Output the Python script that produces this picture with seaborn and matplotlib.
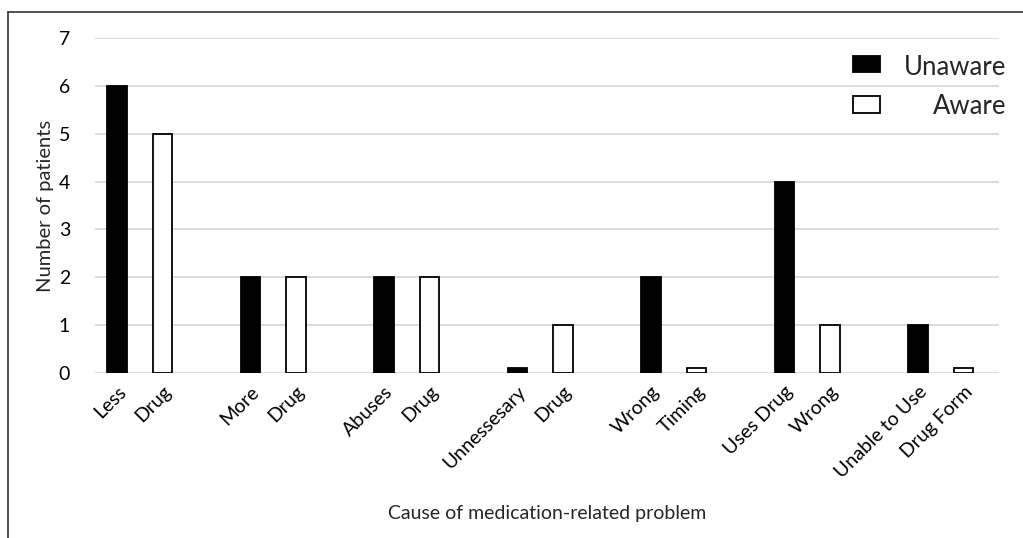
import pandas as pd
import numpy as np
import matplotlib.pyplot as plt
from matplotlib.lines import Line2D
import seaborn as sns

# Data ######################################################################

causes = ["Less Drug", "More Drug", "Abuses Drug", "Unnessesary Drug",
          "Wrong Timing", "Uses Drug Wrong", "Unable to Use Drug Form"]
unaware = [6, 2, 2, 0.1, 2, 4, 1]
aware = [5, 2, 2, 1, 0.1, 1, 0.1]
tick_labels = ["Less", "Drug", "More", "Drug", "Abuses", "Drug",
               "Unnessesary", "Drug", "Wrong", "Timing", "Uses Drug", "Wrong",
               "Unable to Use", "Drug Form"]
series = ["Unaware", "Aware"]

df = pd.DataFrame({
    "cause": causes * 2,
    "patients": unaware + aware,
    "status": [series[0]] * len(causes) + [series[1]] * len(causes),
})

# Plot ######################################################################

sns.set_style("white")
plt.rcParams["font.family"] = ["Lato", "DejaVu Sans"]

W, H = 1023, 538
fig = plt.figure(figsize=(W / 100, H / 100), dpi=100)
ax = fig.add_axes([95 / W, 1 - 373 / H, (999 - 95) / W, (373 - 38) / H])

sns.barplot(data=df, x="cause", y="patients", hue="status",
            hue_order=series,
            palette={"Unaware": "black", "Aware": "white"},
            edgecolor="black", linewidth=1.3,
            width=0.68, gap=0.57, ax=ax)

ax.set_ylim(0, 7)
ax.set_xlim(-0.335, 6.436)
ax.set_yticks(range(8))
ax.yaxis.grid(True, color="#d9d9d9", linewidth=1.3)
ax.set_axisbelow(True)
for s in ax.spines.values():
    s.set_visible(False)
ax.tick_params(axis="both", length=0, labelsize=14, colors="black")
ax.tick_params(axis="y", pad=18)

# one label under every bar
pos = []
for i in range(len(causes)):
    pos += [i - 0.17, i + 0.17]
ax.set_xticks(pos)
ax.set_xticklabels(tick_labels, rotation=45, ha="right",
                   rotation_mode="anchor", fontsize=14)
ax.tick_params(axis="x", pad=7)

ax.set_xlabel("Cause of medication-related problem", fontsize=14, labelpad=17)
ax.set_ylabel("Number of patients", fontsize=14.5, labelpad=3)

# legend: markers from the bars, labels right aligned beside them
fs = 10 * 100 / 72  # legend font size in pixels
handles, _ = ax.get_legend_handles_labels()
leg = ax.legend(handles, ["", ""], loc="upper left",
                bbox_to_anchor=(853 / W, 1 - 56 / H),
                bbox_transform=fig.transFigure,
                frameon=False, fontsize=10, handlelength=27 / fs,
                handleheight=20 / fs, handletextpad=0, labelspacing=24 / fs,
                borderpad=0, borderaxespad=0)
for j, name in enumerate(series):
    fig.text(1006 / W, 1 - (75 + 39 * j) / H, name, ha="right",
             va="baseline", fontsize=18.5)

# outer frame (top and left only visible in the crop)
fig.add_artist(Line2D([8 / W, 8 / W], [0, 1 - 12 / H],
                      transform=fig.transFigure, color="#333333", lw=1.2))
fig.add_artist(Line2D([8 / W, 1], [1 - 12 / H, 1 - 12 / H],
                      transform=fig.transFigure, color="#333333", lw=1.2))

fig.savefig("out.png", dpi=100)
